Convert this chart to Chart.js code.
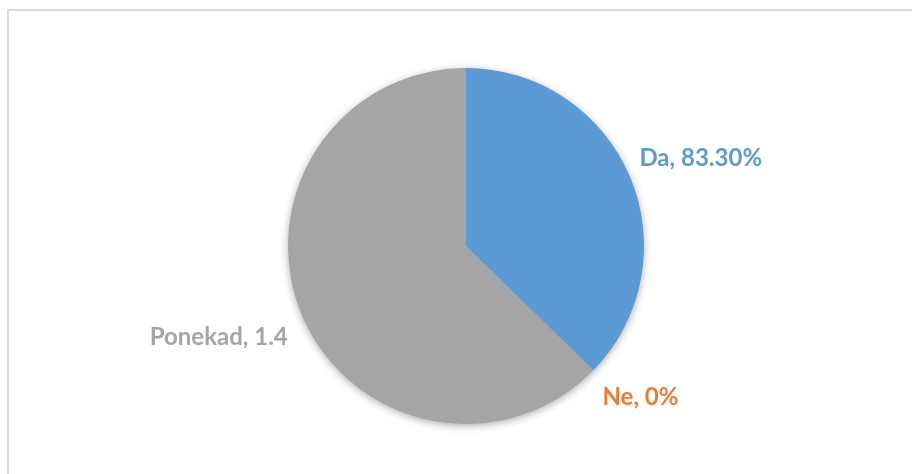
<!DOCTYPE html>
<html>
<head>
<meta charset="utf-8">
<script src="https://cdn.jsdelivr.net/npm/chart.js@4.4.0/dist/chart.umd.min.js"></script>
<style>
  html, body { margin: 0; padding: 0; background: #fff; overflow: hidden; }
  #wrap { position: relative; width: 912px; height: 474px; }
  #frame { position: absolute; left: 7px; top: 9px; width: 940px; height: 520px; border: 2px solid #d9d9d9; box-sizing: border-box; }
  #myChart { position: absolute; left: 0; top: 0; }
</style>
</head>
<body>
<div id="wrap">
  <div id="frame"></div>
  <canvas id="myChart" width="912" height="474"></canvas>
</div>
<script>
var categories = ["Da", "Ne", "Ponekad"]
var values = [0.833, 0, 1.4]
var valueLabels = ["83.30%", "0%", "1.4"]
var colors = ["#5b9bd5", "#ed7d31", "#a5a5a5"]

// soft shadow under the whole pie, like the office chart
var pieShadow = {
    id: "pieShadow",
    beforeDatasetsDraw: function (chart) {
        var arc = chart.getDatasetMeta(0).data[0]
        if (!arc) return
        var ctx = chart.ctx
        ctx.save()
        ctx.shadowColor = "rgba(0,0,0,0.35)"
        ctx.shadowBlur = 9
        ctx.shadowOffsetY = 2
        ctx.fillStyle = "#a5a5a5"
        ctx.beginPath()
        ctx.arc(arc.x, arc.y, arc.outerRadius - 0.5, 0, Math.PI * 2)
        ctx.fill()
        ctx.restore()
    }
}

// outside end labels "Category, value"
var outsideLabels = {
    id: "outsideLabels",
    afterDatasetsDraw: function (chart, args, opts) {
        var ctx = chart.ctx
        var arcs = chart.getDatasetMeta(0).data
        var nudge = opts.nudge || []
        ctx.save()
        ctx.font = "bold 24px Lato, 'Open Sans', sans-serif"
        ctx.textAlign = "center"
        ctx.textBaseline = "middle"
        for (let i = 0; i < arcs.length; i++) {
            var a = arcs[i]
            var mid = (a.startAngle + a.endAngle) / 2
            var text = categories[i] + ", " + valueLabels[i]
            var w = ctx.measureText(text).width
            var h = 20
            var cx = Math.cos(mid)
            var cy = Math.sin(mid)
            var ext = Math.abs(cx) * w / 2 + Math.abs(cy) * h / 2
            var d = a.outerRadius + 12 + ext
            var n = nudge[i] || [0, 0]
            ctx.fillStyle = colors[i]
            ctx.fillText(text, a.x + cx * d + n[0], a.y + cy * d + n[1])
        }
        ctx.restore()
    }
}

var ctx = document.getElementById("myChart")
var myChart = new Chart(ctx, {
    type: "pie",
    data: {
        labels: categories,
        datasets: [
            {
                data: values,
                backgroundColor: colors,
                borderWidth: 0,
                hoverOffset: 0
            }
        ]
    },
    options: {
        responsive: false,
        animation: false,
        layout: {
            padding: { left: 288, right: 268, top: 68, bottom: 50 }
        },
        plugins: {
            legend: { display: false },
            tooltip: { enabled: false },
            outsideLabels: {
                nudge: [[4, 10], [14, -5], [-10, -9]]
            }
        }
    },
    plugins: [pieShadow, outsideLabels]
})
</script>
</body>
</html>
